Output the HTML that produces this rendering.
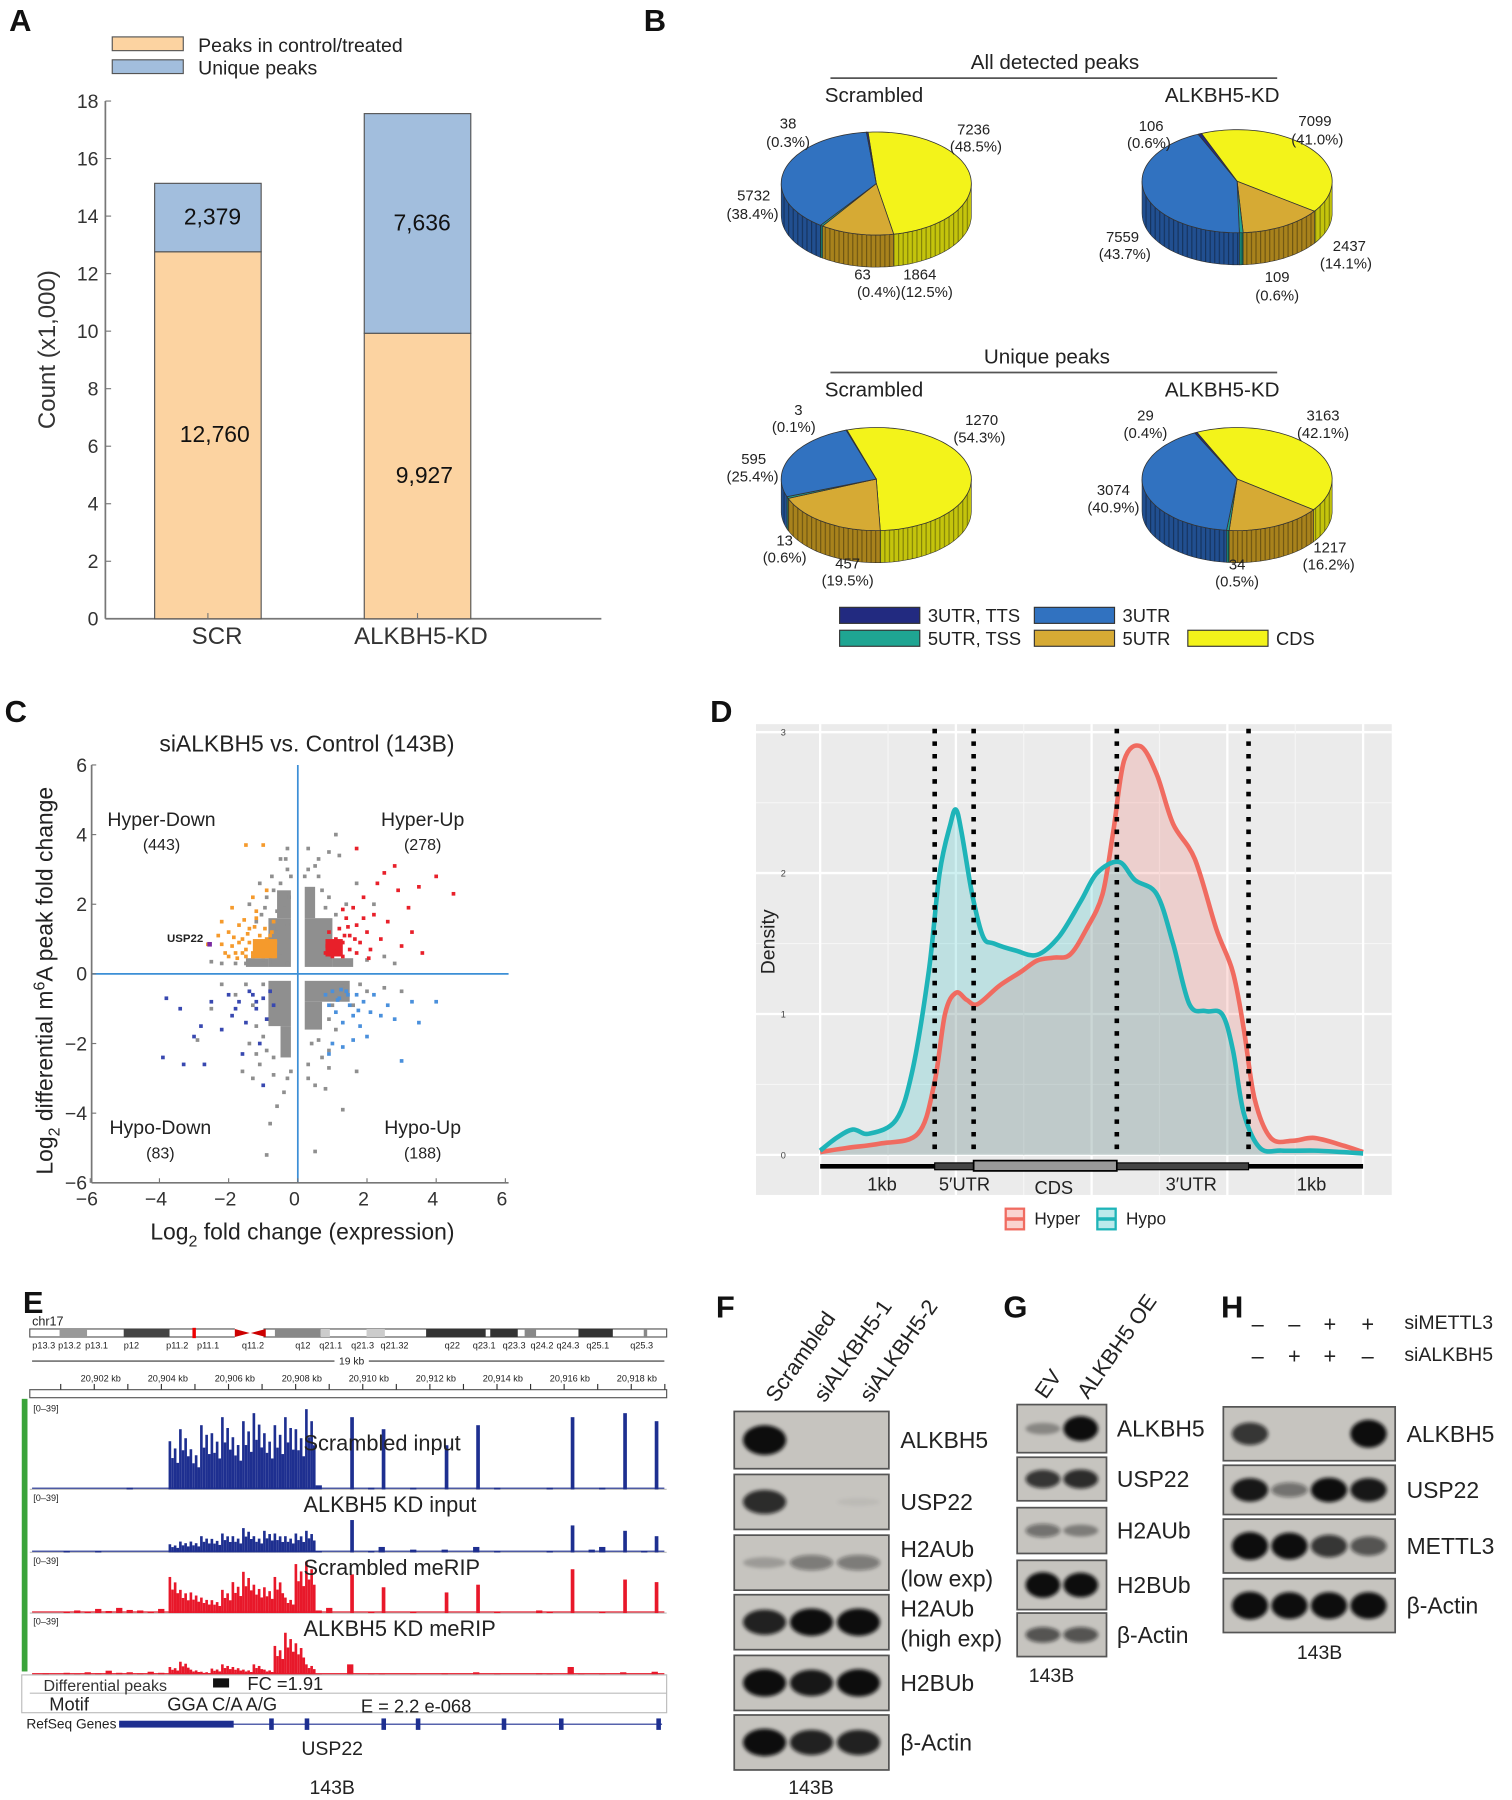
<!DOCTYPE html>
<html><head><meta charset="utf-8">
<style>
html,body{margin:0;padding:0;background:#fff;}
svg{display:block;font-family:"Liberation Sans",Arial,sans-serif;}
.pl{font-weight:bold;font-size:27px;fill:#111;}
.tk{font-size:17px;fill:#333;}
.sm{font-size:13px;fill:#222;}
</style></head>
<body>
<svg id="fig" width="1512" height="1800" viewBox="0 0 1320 1571" xmlns="http://www.w3.org/2000/svg">
<defs>
<pattern id="stripes" width="4" height="10" patternUnits="userSpaceOnUse"><rect x="0" y="0" width="1" height="10" fill="rgba(0,0,0,0.35)"/></pattern>
<filter id="blur" x="-20%" y="-50%" width="140%" height="200%"><feGaussianBlur stdDeviation="1.6"/></filter>
</defs>
<text class="pl" x="8" y="27">A</text>
<text class="pl" x="562" y="27">B</text>
<text class="pl" x="4" y="630">C</text>
<text class="pl" x="620" y="630">D</text>
<text class="pl" x="20" y="1146">E</text>
<text class="pl" x="625" y="1150">F</text>
<text class="pl" x="876" y="1150">G</text>
<text class="pl" x="1066" y="1150">H</text>

<g id="panelA"></g>
<g id="panelB"></g>
<g id="panelC"></g>
<g id="panelD"></g>
<g id="panelE"></g>
<g id="panelF"></g>
<g id="panelG"></g>
<g id="panelH"></g>
</svg>
<script>
// ===== Panel A data =====
const aCategories = ["SCR","ALKBH5-KD"];
const aShared = [12760, 9927];
const aUnique = [2379, 7636];
const aTicks = [0,2,4,6,8,10,12,14,16,18];
// ===== Panel B data =====
const bAllScr = [7236,1864,63,5732,38];
const bAllKD = [7099,2437,109,7559,106];
const bUniScr = [1270,457,13,595,3];
const bUniKD = [3163,1217,34,3074,29];
// ===== Panel C data =====
// dense point cores: [xmin, xmax, ymin, ymax]
const cGrayCores = [[-0.85,-0.2,0.2,1.6],[-1.5,-0.85,0.2,0.45],[-0.6,-0.2,1.6,2.4],[0.2,1.0,0.2,1.6],[1.0,1.6,0.2,0.45],[0.2,0.5,1.6,2.5],[-0.85,-0.2,-0.2,-1.5],[-0.5,-0.2,-1.5,-2.4],[0.2,1.5,-0.2,-0.8],[0.2,0.7,-0.8,-1.6]];
const cOrangeCores = [[-1.3,-0.6,0.45,1.0]];
const cRedCores = [[0.8,1.3,0.5,1.0]];
const cOrange = [-2.6,0.85,-2.3,1.1,-2.2,1.5,-2.0,1.2,-1.9,0.8,-1.8,0.6,-1.7,1.4,-1.6,1.0,-1.5,0.7,-1.4,1.3,-1.3,0.5,-1.3,2.2,-1.2,0.9,-1.2,1.8,-1.1,0.6,-1.1,1.1,-1.0,0.8,-1.0,0.5,-0.95,1.3,-0.9,0.7,-0.9,2.4,-0.85,0.9,-0.8,0.55,-0.8,1.1,-0.75,0.7,-0.7,0.5,-0.7,1.5,-0.65,0.9,-1.5,0.5,-1.4,0.9,-1.6,0.6,-1.9,1.9,-2.1,0.6,-1.0,3.7,-1.5,3.7,-1.2,1.6,-0.9,1.0,-1.7,0.9,-2.0,0.5,-1.1,0.8,-1.3,0.6,-0.8,0.8,-0.75,1.2,-1.45,1.15,-1.75,0.45,-2.2,0.85,-1.55,1.55,-1.25,1.35,-1.85,1.05];
const cRed = [0.8,0.6,0.9,0.9,0.9,1.2,1.0,0.5,1.0,0.8,1.1,1.0,1.1,0.6,1.2,0.7,1.2,1.3,1.3,0.5,1.3,0.9,1.4,1.6,1.5,0.7,1.5,1.1,1.6,1.9,1.7,0.6,1.7,1.4,1.8,0.9,1.9,2.2,2.0,1.2,2.1,0.7,2.2,1.7,2.3,2.6,2.4,1.0,2.5,2.9,2.6,1.5,2.8,3.1,2.9,2.4,3.0,0.8,3.2,1.9,3.3,1.2,3.5,2.5,3.6,0.6,4.0,2.8,4.5,2.3,1.7,3.6,0.85,0.8,1.05,0.65,0.95,0.55,1.15,0.85,1.35,1.1,1.9,1.6,1.45,1.35,1.65,1.0,2.05,0.45,1.3,1.85];
const cNavy = [-3.8,-0.7,-3.4,-1.0,-3.0,-1.8,-2.8,-1.5,-2.7,-2.6,-3.3,-2.6,-3.9,-2.4,-2.2,-1.6,-2.0,-0.6,-1.8,-1.0,-1.7,-0.8,-1.5,-1.4,-1.3,-0.6,-1.2,-1.0,-1.1,-2.0,-1.0,-0.7,-0.9,-1.3,-0.8,-0.5,-0.7,-0.9,-1.4,-0.5,-1.6,-2.3,-1.9,-1.2,-1.0,-3.2,-2.5,-0.8,-1.2,-0.8];
const cLight = [0.8,-0.6,0.9,-0.9,1.0,-0.5,1.1,-1.1,1.2,-0.7,1.3,-1.4,1.4,-0.5,1.5,-0.9,1.6,-1.2,1.7,-0.6,1.8,-1.5,1.9,-0.8,2.0,-1.8,2.1,-1.1,2.2,-0.6,1.0,-2.0,0.9,-2.3,1.3,-2.1,2.6,-0.9,2.8,-1.3,3.0,-2.5,3.3,-0.8,3.5,-1.4,4.0,-0.8,1.15,-0.75,1.45,-0.6,1.6,-1.9,2.4,-1.2,1.25,-0.45,1.75,-1.05];
const cGray = [-0.3,0.3,-0.5,0.5,-0.7,0.35,-1.0,0.3,-0.3,1.4,-0.6,1.8,-0.25,2.2,-0.5,2.6,-0.3,3.0,-0.9,2.2,-1.2,1.5,-1.5,0.3,-1.8,0.3,-2.2,0.3,-0.6,1.3,-0.4,2.0,-0.7,2.4,-1.1,2.6,-0.3,3.6,-0.2,2.8,-1.4,2.0,-0.5,3.3,-2.5,0.35,-0.95,1.9,-1.05,1.7,-0.75,2.8,-0.35,3.3,
0.3,3.0,0.9,2.2,1.2,3.4,0.5,3.1,0.7,2.4,0.9,3.5,0.3,3.6,0.2,2.8,1.4,2.0,0.6,2.8,1.5,0.3,2.0,0.4,2.5,0.5,2.8,0.3,1.1,4.0,1.7,2.6,2.2,2.0,0.8,1.9,1.1,1.7,0.6,3.3,
-1.0,-0.3,-0.3,-3.0,-0.9,-2.2,-1.2,-1.5,-1.5,-0.3,-1.8,-0.6,-2.2,-0.3,-0.7,-2.4,-1.1,-2.6,-0.4,-3.4,-0.2,-2.8,-1.4,-2.0,-1.6,-2.8,-1.3,-3.0,-0.6,-3.8,-0.8,-4.3,-0.9,-5.2,-2.5,-1.0,-2.9,-1.9,-1.3,-0.9,-1.0,-1.8,-1.2,-2.3,-0.7,-2.9,
0.3,-3.0,0.9,-2.2,1.0,-0.9,0.9,-1.3,0.4,-2.0,0.7,-2.4,1.3,-0.35,1.8,-0.3,2.5,-0.4,3.0,-0.5,0.5,-3.2,0.8,-3.3,1.3,-3.9,0.5,-5.1,1.7,-2.8,0.9,-2.7,0.3,-2.6,0.6,-1.9,1.1,-1.6,1.6,-0.9,2.0,-0.5];
const cTicks = [-6,-4,-2,0,2,4,6];
// ===== Panel D data =====
const dHyperPos = [0,5,11,18,21,23,25,27,29,33,37,40,43,46,49,52,54,56,59,62,65,69,73,76,78,80,83,87,91,96,100];
const dHyperVal = [0.02,0.05,0.08,0.15,0.5,1.0,1.15,1.1,1.07,1.2,1.3,1.38,1.4,1.42,1.6,1.85,2.3,2.8,2.9,2.7,2.35,2.1,1.6,1.3,0.9,0.4,0.12,0.1,0.12,0.07,0.02];
const dHypoPos = [0,3,6,9,14,17,20,22,24,25,26,28,30,32,36,40,44,48,51,55,58,62,65,68,71,74,76,78,81,85,91,96,100];
const dHypoVal = [0.03,0.12,0.18,0.15,0.25,0.6,1.3,2.0,2.35,2.45,2.3,1.85,1.55,1.5,1.45,1.42,1.55,1.8,2.0,2.08,1.95,1.85,1.5,1.07,1.02,1.0,0.75,0.3,0.05,0.03,0.03,0.02,0.01];
const dTicks = [0,1,2,3];
// ===== Panel E data (bin heights 0..1, 60 bins) =====
const eScrInput = [0,0,0,0,0,0,0,0,0,0.02,0,0,0,0.6,0.75,0.5,0.8,0.7,0.9,0.65,0.85,0.95,0.7,0.8,0.9,0.75,1.0,0.05,0,0,0.9,0,0.02,0.75,0,0,0.02,0,0,0.55,0,0,0.8,0,0.02,0,0,0,0,0.02,0,0.9,0,0,0.02,0,0.95,0,0,0.85];
const eKDInput = [0,0,0,0.02,0,0,0.02,0,0,0,0,0,0,0.15,0.2,0.2,0.3,0.25,0.35,0.3,0.45,0.3,0.4,0.35,0.3,0.35,0.4,0.02,0,0,0.6,0,0.02,0.1,0,0,0.05,0,0,0.05,0,0,0.1,0,0.02,0,0,0,0,0.02,0,0.5,0,0.05,0.1,0,0.4,0,0.02,0.3];
const eScrMerip = [0,0,0,0.02,0.05,0.03,0.08,0.04,0.1,0.06,0.05,0.03,0.08,0.7,0.45,0.4,0.3,0.25,0.45,0.6,0.8,0.55,0.5,0.7,0.3,0.95,1.0,0.05,0.1,0,0.75,0,0.02,0.5,0,0,0.02,0,0,0.4,0,0,0.55,0,0.02,0,0,0,0.05,0.02,0,0.85,0,0,0.02,0,0.65,0,0,0.6];
const eKDMerip = [0,0.03,0,0.04,0.02,0.05,0.03,0.08,0.04,0.05,0.03,0.06,0.04,0.15,0.25,0.1,0.06,0.12,0.2,0.15,0.1,0.2,0.1,0.55,0.8,0.6,0.2,0.02,0,0,0.2,0,0.02,0.02,0,0,0.02,0,0,0.03,0,0,0.05,0,0.02,0,0,0,0.03,0.02,0,0.15,0.02,0,0.02,0,0.05,0,0,0.06];
// ===== Blot data =====
const fRows = ["ALKBH5","USP22","H2AUb|(low exp)","H2AUb|(high exp)","H2BUb","β-Actin"];
const fBands = [[1,0,0],[0.8,0,0.05],[0.2,0.4,0.4],[0.85,0.95,0.95],[0.95,0.9,0.95],[0.95,0.85,0.85]];
const gRows = ["ALKBH5","USP22","H2AUb","H2BUb","β-Actin"];
const gBands = [[0.3,1],[0.75,0.8],[0.45,0.35],[1,0.95],[0.6,0.6]];
const hRows = ["ALKBH5","USP22","METTL3","β-Actin"];
const hBands = [[0.75,0,0,1],[0.9,0.45,0.95,0.9],[1,0.95,0.75,0.6],[1,0.95,0.95,0.95]];

const NS="http://www.w3.org/2000/svg";
function mk(parent,tag,attrs,txt){const e=document.createElementNS(NS,tag);for(const k in attrs)e.setAttribute(k,attrs[k]);if(txt!==undefined)e.textContent=txt;parent.appendChild(e);return e;}

// ===== Panel A =====
(function(){
const g=document.getElementById('panelA');
const x0=92,yb=540,yt=88,max=18;
const y=v=>yb-(v/1000)/max*(yb-yt);
const yv=v=>yb-v/max*(yb-yt);
const bx=[135,318],bw=93;
let el;
el=mk(g,'line',{x1:x0,y1:yt,x2:x0,y2:yb,stroke:'#777','stroke-width':1.5});

el=mk(g,'line',{x1:x0,y1:yb,x2:525,y2:yb,stroke:'#777','stroke-width':1.5});

aTicks.forEach(t=>{mk(g,'line',{x1:x0,y1:yv(t),x2:x0+5,y2:yv(t),stroke:'#777'});
el=mk(g,'text',{x:x0-6,y:yv(t)+6,'text-anchor':'end',class:'tk'},t);
});
aCategories.forEach((c,i)=>{
 el=mk(g,'rect',{x:bx[i],y:y(aShared[i]),width:bw,height:yb-y(aShared[i]),fill:'#fcd3a1',stroke:'#555','stroke-width':1});
 
 el=mk(g,'rect',{x:bx[i],y:y(aShared[i]+aUnique[i]),width:bw,height:y(aShared[i])-y(aShared[i]+aUnique[i]),fill:'#a2bedd',stroke:'#555','stroke-width':1});
 
 el=mk(g,'text',{x:bx[i]+bw/2+6,y:(y(aShared[i])+yb)/2+6,'text-anchor':'middle','font-size':20,fill:'#111'},aShared[i].toLocaleString('en-US'));
 
 el=mk(g,'text',{x:bx[i]+bw/2+4,y:(y(aShared[i])+y(aShared[i]+aUnique[i]))/2+6,'text-anchor':'middle','font-size':20,fill:'#111'},aUnique[i].toLocaleString('en-US'));
 
 mk(g,'line',{x1:bx[i]+bw/2,y1:yb,x2:bx[i]+bw/2,y2:yb-5,stroke:'#777'});
 el=mk(g,'text',{x:bx[i]+bw/2+ (i?3:8),y:562,'text-anchor':'middle','font-size':21,fill:'#333'},c);
 
});
el=mk(g,'text',{x:48,y:305,'text-anchor':'middle','font-size':21,fill:'#333',transform:'rotate(-90 48 305)'},'Count (x1,000)');

el=mk(g,'rect',{x:98,y:32,width:62,height:12,fill:'#fcd3a1',stroke:'#555'});

el=mk(g,'rect',{x:98,y:52,width:62,height:12,fill:'#a2bedd',stroke:'#555'});

el=mk(g,'text',{x:173,y:45,'font-size':17,fill:'#222'},'Peaks in control/treated');

el=mk(g,'text',{x:173,y:65,'font-size':17,fill:'#222'},'Unique peaks');

})();

// ===== Panel B =====
(function(){
const g=document.getElementById('panelB');
const top=['#f3f31a','#d6aa34','#1fa592','#3172c0','#222a80'];
const side=['#c4c40c','#a8821c','#188070','#214f90','#161d60'];
function pie(cx,cy,rx,ry,d,vals,start,name){
 const pg=mk(g,'g',{});
 
 const tot=vals.reduce((a,b)=>a+b,0);
 const P=(a,dy)=>[cx+rx*Math.cos(a),cy+ry*Math.sin(a)+(dy||0)];
 let a=start*Math.PI/180;const segs=[];
 vals.forEach((v,i)=>{const b=a+v/tot*2*Math.PI;segs.push([a,b,i]);a=b;});
 segs.forEach(([a1,b1,i])=>{
  for(let k=-1;k<=1;k++){
   const lo=Math.max(a1,k*2*Math.PI),hi=Math.min(b1,k*2*Math.PI+Math.PI);
   if(hi<=lo)continue;
   let dstr='';const n=24;
   for(let j=0;j<=n;j++){const t=lo+(hi-lo)*j/n;const p=P(t);dstr+=(j?'L':'M')+p[0].toFixed(1)+','+p[1].toFixed(1);}
   for(let j=n;j>=0;j--){const t=lo+(hi-lo)*j/n;const p=P(t,d);dstr+='L'+p[0].toFixed(1)+','+p[1].toFixed(1);}
   dstr+='Z';
   const s=mk(pg,'path',{d:dstr,fill:side[i],stroke:'#333','stroke-width':0.5});
   
   mk(pg,'path',{d:dstr,fill:'url(#stripes)'});
  }
 });
 segs.forEach(([a1,b1,i])=>{
  let dstr='M'+cx+','+cy;const n=Math.max(2,Math.ceil((b1-a1)*20));
  for(let j=0;j<=n;j++){const t=a1+(b1-a1)*j/n;const p=P(t);dstr+='L'+p[0].toFixed(1)+','+p[1].toFixed(1);}
  dstr+='Z';
  const s=mk(pg,'path',{d:dstr,fill:top[i],stroke:'#333','stroke-width':0.7});
  
 });
}
pie(765,160,83,45,28,bAllScr,-95,'pie-all-scrambled');
pie(1080,158,83,45,28,bAllKD,-112,'pie-all-alkbh5-kd');
pie(765,418,83,45,28,bUniScr,-108,'pie-unique-scrambled');
pie(1080,418,83,45,28,bUniKD,-115,'pie-unique-alkbh5-kd');
let el;
[[921,60,'All detected peaks',68],[914,317,'Unique peaks',325]].forEach(h=>{
 el=mk(g,'text',{x:h[0],y:h[1],'text-anchor':'middle','font-size':18,fill:'#222'},h[2]);
 
 mk(g,'line',{x1:725,y1:h[3],x2:1115,y2:h[3],stroke:'#555','stroke-width':1.5});
 el=mk(g,'text',{x:763,y:h[3]+21,'text-anchor':'middle','font-size':18,fill:'#222'},'Scrambled');
 
 el=mk(g,'text',{x:1067,y:h[3]+21,'text-anchor':'middle','font-size':18,fill:'#222'},'ALKBH5-KD');
 
});
const labs=[[688,112,'38'],[688,128,'(0.3%)'],[850,117,'7236'],[852,132,'(48.5%)'],[658,175,'5732'],[657,191,'(38.4%)'],[753,244,'63'],[803,244,'1864'],[790,259,'(0.4%)(12.5%)'],
[1005,114,'106'],[1003,129,'(0.6%)'],[1148,110,'7099'],[1150,126,'(41.0%)'],[980,211,'7559'],[982,226,'(43.7%)'],[1178,219,'2437'],[1175,234,'(14.1%)'],[1115,246,'109'],[1115,262,'(0.6%)'],
[697,362,'3'],[693,377,'(0.1%)'],[857,371,'1270'],[855,386,'(54.3%)'],[658,405,'595'],[657,420,'(25.4%)'],[685,476,'13'],[685,491,'(0.6%)'],[740,496,'457'],[740,511,'(19.5%)'],
[1000,367,'29'],[1000,382,'(0.4%)'],[1155,367,'3163'],[1155,382,'(42.1%)'],[972,432,'3074'],[972,447,'(40.9%)'],[1161,482,'1217'],[1160,497,'(16.2%)'],[1080,497,'34'],[1080,512,'(0.5%)']];
labs.forEach(l=>{el=mk(g,'text',{x:l[0],y:l[1],'text-anchor':'middle',class:'sm'},l[2]);
 });
const leg=[[733,530,'#222a80','3UTR, TTS'],[903,530,'#3172c0','3UTR'],[733,550,'#1fa592','5UTR, TSS'],[903,550,'#d6aa34','5UTR'],[1037,550,'#f3f31a','CDS']];
leg.forEach(l=>{el=mk(g,'rect',{x:l[0],y:l[1],width:70,height:14,fill:l[2],stroke:'#333'});
 
 el=mk(g,'text',{x:l[0]+77,y:l[1]+13,'font-size':16,fill:'#222'},l[3]);
 });
})();

// ===== Panel C =====
(function(){
const g=document.getElementById('panelC');
const X=v=>260+v*30.2, Y=v=>850-v*30.4;
let el;
el=mk(g,'text',{x:268,y:656,'text-anchor':'middle','font-size':20,fill:'#222'},'siALKBH5 vs. Control (143B)');

function cores(arr,col,name){arr.forEach(c=>{
 const x1=Math.min(X(c[0]),X(c[1])),x2=Math.max(X(c[0]),X(c[1])),y1=Math.min(Y(c[2]),Y(c[3])),y2=Math.max(Y(c[2]),Y(c[3]));
 const r=mk(g,'rect',{x:x1,y:y1,width:x2-x1,height:y2-y1,fill:col});
 });}
function pts(arr,col,name){arr.forEach((v,i)=>{if(i%2)return;
 const c=mk(g,'rect',{x:X(v)-1.6,y:Y(arr[i+1])-1.6,width:3.2,height:3.2,fill:col});
 });}
cores(cGrayCores,'#8f8f8f','point-cluster-gray');
pts(cGray,'#8f8f8f','point-gray');
cores(cOrangeCores,'#f59a2c','point-cluster-hyper-down');
cores(cRedCores,'#e8202a','point-cluster-hyper-up');
pts(cOrange,'#f59a2c','point-hyper-down');
pts(cRed,'#e8202a','point-hyper-up');
pts(cNavy,'#3848b0','point-hypo-down');
pts(cLight,'#4a90dc','point-hypo-up');
el=mk(g,'rect',{x:X(-2.55)-2,y:Y(0.85)-2,width:4,height:4,fill:'#7a2aa0'});

el=mk(g,'text',{x:X(-2.6)-4,y:Y(0.85)-2,'text-anchor':'end','font-size':10,'font-weight':'bold',fill:'#222'},'USP22');

mk(g,'line',{x1:80,y1:Y(0),x2:444,y2:Y(0),stroke:'#3c8fd6','stroke-width':1.5});
mk(g,'line',{x1:X(0),y1:Y(6),x2:X(0),y2:Y(-6),stroke:'#3c8fd6','stroke-width':1.5});
el=mk(g,'line',{x1:80,y1:Y(6),x2:80,y2:Y(-6),stroke:'#777','stroke-width':1.5});

el=mk(g,'line',{x1:80,y1:Y(-6),x2:444,y2:Y(-6),stroke:'#777','stroke-width':1.5});

cTicks.forEach(t=>{
 mk(g,'line',{x1:80,y1:Y(t),x2:84,y2:Y(t),stroke:'#777'});
 el=mk(g,'text',{x:76,y:Y(t)+6,'text-anchor':'end',class:'tk'},t<0?'\u2212'+(-t):t);
 
 mk(g,'line',{x1:X(t),y1:Y(-6),x2:X(t),y2:Y(-6)-4,stroke:'#777'});
 el=mk(g,'text',{x:X(t)-3,y:1052,'text-anchor':'middle',class:'tk'},t<0?'\u2212'+(-t):t);
 
});
const q=[[141,721,'Hyper-Down','(443)'],[369,721,'Hyper-Up','(278)'],[140,990,'Hypo-Down','(83)'],[369,990,'Hypo-Up','(188)']];
q.forEach(a=>{el=mk(g,'text',{x:a[0],y:a[1],'text-anchor':'middle','font-size':17,fill:'#222'},a[2]);
 
 el=mk(g,'text',{x:a[0],y:a[1]+21,'text-anchor':'middle','font-size':14,fill:'#222'},a[3]);
 });
el=mk(g,'text',{x:264,y:1082,'text-anchor':'middle','font-size':20,fill:'#222'});
el.innerHTML='Log<tspan font-size="14" dy="6">2</tspan><tspan dy="-6"> fold change (expression)</tspan>';

el=mk(g,'text',{x:46,y:856,'text-anchor':'middle','font-size':20,fill:'#222',transform:'rotate(-90 46 856)'});
el.innerHTML='Log<tspan font-size="14" dy="6">2</tspan><tspan dy="-6"> differential m</tspan><tspan font-size="14" dy="-7">6</tspan><tspan dy="7">A peak fold change</tspan>';

})();

// ===== Panel D =====
(function(){
const g=document.getElementById('panelD');
const X=p=>716+p*4.74, Y=v=>1008-v*123;
let el;
el=mk(g,'rect',{x:660,y:632,width:555,height:411,fill:'#ebebeb'});

[0.5,1.5,2.5].forEach(v=>mk(g,'line',{x1:660,y1:Y(v),x2:1215,y2:Y(v),stroke:'#f6f6f6','stroke-width':1}));
dTicks.forEach(v=>{mk(g,'line',{x1:660,y1:Y(v),x2:1215,y2:Y(v),stroke:'#fff','stroke-width':2});
 el=mk(g,'text',{x:686,y:Y(v)+3,'text-anchor':'end','font-size':8,fill:'#444'},v);
 });
[0,12.5,25,37.5,50,62.5,75,87.5,100].forEach((p,i)=>mk(g,'line',{x1:X(p),y1:632,x2:X(p),y2:1043,stroke:i%2?'#f6f6f6':'#fff','stroke-width':i%2?1:2}));
function area(pos,val,fill,name){
 const P=pos.map((p,i)=>[X(p),Y(val[i])]);
 let line='M'+P[0][0]+','+P[0][1];
 for(let i=0;i<P.length-1;i++){const p0=P[Math.max(0,i-1)],p1=P[i],p2=P[i+1],p3=P[Math.min(P.length-1,i+2)];
  const c1=[p1[0]+(p2[0]-p0[0])/6,p1[1]+(p2[1]-p0[1])/6],c2=[p2[0]-(p3[0]-p1[0])/6,p2[1]-(p3[1]-p1[1])/6];
  line+='C'+c1[0].toFixed(1)+','+c1[1].toFixed(1)+' '+c2[0].toFixed(1)+','+c2[1].toFixed(1)+' '+p2[0].toFixed(1)+','+p2[1].toFixed(1);}
 el=mk(g,'path',{d:line+'L'+X(pos[pos.length-1])+','+Y(0)+'L'+X(pos[0])+','+Y(0)+'Z',fill:fill});
 
 return line;
}
const l1=area(dHyperPos,dHyperVal,'rgba(240,110,100,0.22)','hyper');
const l2=area(dHypoPos,dHypoVal,'rgba(30,185,190,0.22)','hypo');
el=mk(g,'path',{d:l1,fill:'none',stroke:'#f06b60','stroke-width':4});

el=mk(g,'path',{d:l2,fill:'none',stroke:'#1eb4b8','stroke-width':4});

[816,850,975,1090].forEach(x=>{el=mk(g,'line',{x1:x,y1:636,x2:x,y2:1010,stroke:'#000','stroke-width':4,'stroke-dasharray':'4 7'});
 });
el=mk(g,'line',{x1:716,y1:1018,x2:1190,y2:1018,stroke:'#000','stroke-width':4});

mk(g,'rect',{x:816,y:1015,width:34,height:6,fill:'#444',stroke:'#000'});
mk(g,'rect',{x:975,y:1015,width:115,height:6,fill:'#444',stroke:'#000'});
el=mk(g,'rect',{x:850,y:1013,width:125,height:9,fill:'#9a9a9a',stroke:'#000','stroke-width':1.5});

[[770,1039,'1kb'],[842,1039,'5\u2032UTR'],[920,1042,'CDS'],[1040,1039,'3\u2032UTR'],[1145,1039,'1kb']].forEach(a=>{
 el=mk(g,'text',{x:a[0],y:a[1],'text-anchor':'middle','font-size':16,fill:'#222'},a[2]);
 });
el=mk(g,'text',{x:676,y:822,'text-anchor':'middle','font-size':17,fill:'#222',transform:'rotate(-90 676 822)'},'Density');

el=mk(g,'rect',{x:878,y:1055,width:16,height:18,fill:'rgba(240,110,100,0.3)',stroke:'#f06b60','stroke-width':2});

mk(g,'line',{x1:878,y1:1064,x2:894,y2:1064,stroke:'#f06b60','stroke-width':3});
el=mk(g,'text',{x:903,y:1069,'font-size':15,fill:'#222'},'Hyper');

el=mk(g,'rect',{x:958,y:1055,width:16,height:18,fill:'rgba(30,185,190,0.3)',stroke:'#1eb4b8','stroke-width':2});

mk(g,'line',{x1:958,y1:1064,x2:974,y2:1064,stroke:'#1eb4b8','stroke-width':3});
el=mk(g,'text',{x:983,y:1069,'font-size':15,fill:'#222'},'Hypo');

})();

// ===== Panel E =====
(function(){
const g=document.getElementById('panelE');
let el;
el=mk(g,'text',{x:28,y:1157,'font-size':11,fill:'#222'},'chr17');

el=mk(g,'rect',{x:26,y:1160,width:556,height:7,fill:'#fff',stroke:'#555'});

[[52,76,'#999'],[108,148,'#444'],[240,280,'#888'],[280,288,'#ccc'],[320,336,'#ccc'],[372,424,'#333'],[428,452,'#333'],[458,468,'#888'],[505,535,'#333'],[562,565,'#888']].forEach(b=>mk(g,'rect',{x:b[0],y:1160,width:b[1]-b[0],height:7,fill:b[2]}));
mk(g,'rect',{x:168,y:1159,width:3,height:9,fill:'#e00'});
mk(g,'rect',{x:205,y:1158,width:25,height:11,fill:'#fff'});
mk(g,'path',{d:'M205,1160 L218,1163.5 L205,1167Z M232,1160 L219,1163.5 L232,1167Z',fill:'#c00'});
const bands=[[40,'p13.3'],[66,'p13.2'],[93,'p13.1'],[128,'p12'],[174,'p11.2'],[205,'p11.1'],[250,'q11.2'],[300,'q12'],[328,'q21.1'],[360,'q21.3'],[392,'q21.32'],[450,'q22'],[482,'q23.1'],[512,'q23.3'],[540,'q24.2'],[566,'q24.3'],[596,'q25.1'],[640,'q25.3']];
bands.forEach(b=>{const x=26+(b[0]-26)*0.87;el=mk(g,'text',{x:x,y:1177,'text-anchor':'middle','font-size':8,fill:'#222'},b[1]);
 });
mk(g,'line',{x1:28,y1:1188,x2:580,y2:1188,stroke:'#333'});
mk(g,'rect',{x:292,y:1181,width:30,height:12,fill:'#fff'});
el=mk(g,'text',{x:307,y:1191,'text-anchor':'middle','font-size':9,fill:'#222'},'19 kb');

for(let i=0;i<9;i++){const x=88+i*58.5;el=mk(g,'text',{x:x,y:1206,'text-anchor':'middle','font-size':8,fill:'#222'},'20,'+(902+2*i)+' kb');
 }
mk(g,'rect',{x:26,y:1213,width:556,height:7,fill:'#fff',stroke:'#555'});
for(let i=0;i<19;i++){const x=53+i*29.3;mk(g,'line',{x1:x,y1:1208,x2:x,y2:1213,stroke:'#333'});}
el=mk(g,'rect',{x:19,y:1221,width:5,height:238,fill:'#3aa33a'});

const tracks=[[eScrInput,1222,1300,'#1e2f90','Scrambled input'],[eKDInput,1300,1355,'#1e2f90','ALKBH5 KD input'],[eScrMerip,1355,1408,'#e8182a','Scrambled meRIP'],[eKDMerip,1408,1462,'#e8182a','ALKBH5 KD meRIP']];
const bw=(578-28)/60;
tracks.forEach(t=>{
 const tg=mk(g,'g',{});
 mk(tg,'line',{x1:26,y1:t[2],x2:582,y2:t[2],stroke:'#bbb'});
 mk(tg,'line',{x1:28,y1:t[2]-1,x2:580,y2:t[2]-1,stroke:t[3],'stroke-width':1});
 t[0].forEach((v,i)=>{if(v<=0)return;const h=v*(t[2]-t[1]-8);
  const dense=(i>=13&&i<=26);
  if(dense){
   // jagged sub-bars within bin
   [1,0.65,0.85,0.55].forEach((f,k)=>{const r=mk(tg,'rect',{x:28+i*bw+k*bw/4,y:t[2]-h*f,width:bw/4,height:h*f,fill:t[3]});
    });
  } else {
   const r=mk(tg,'rect',{x:28+i*bw+(v>0.2?bw*0.3:0),y:t[2]-h,width:v>0.2?bw*0.35:bw*0.6,height:h,fill:t[3]});
   
  }});
 el=mk(tg,'text',{x:29,y:t[1]+10,'font-size':8,fill:'#222'},'[0\u201339]');
 
 el=mk(tg,'text',{x:265,y:t[1]+(t[1]===1222?44:20),'font-size':19,fill:'#222'},t[4]);
 
});
mk(g,'rect',{x:19,y:1462,width:563,height:33,fill:'none',stroke:'#bbb'});
mk(g,'line',{x1:26,y1:1478,x2:582,y2:1478,stroke:'#bbb'});
el=mk(g,'text',{x:38,y:1476,'font-size':14,fill:'#333'},'Differential peaks');

el=mk(g,'rect',{x:186,y:1465,width:14,height:8,fill:'#111'});

el=mk(g,'text',{x:216,y:1475,'font-size':16,fill:'#222'},'FC =1.91');

el=mk(g,'text',{x:43,y:1493,'font-size':16,fill:'#222'},'Motif');

el=mk(g,'text',{x:146,y:1493,'font-size':16,fill:'#222'},'GGA C/A A/G');

el=mk(g,'text',{x:315,y:1495,'font-size':16,fill:'#222'},'E = 2.2 e-068');

el=mk(g,'text',{x:23,y:1509,'font-size':12,fill:'#222'},'RefSeq Genes');

el=mk(g,'line',{x1:104,y1:1505,x2:578,y2:1505,stroke:'#1e2f90','stroke-width':1});

mk(g,'rect',{x:104,y:1502,width:100,height:6,fill:'#1e2f90'});
[237,268,335,365,440,490,575].forEach(x=>mk(g,'rect',{x:x-2,y:1500,width:4,height:10,fill:'#1e2f90'}));
el=mk(g,'text',{x:290,y:1532,'text-anchor':'middle','font-size':17,fill:'#222'},'USP22');

el=mk(g,'text',{x:290,y:1566,'text-anchor':'middle','font-size':17,fill:'#222'},'143B');

})();

// ===== Blots =====
function blot(gid,x,w,rows,bands,labelX,name){
 const g=document.getElementById(gid);
 rows.forEach((r,i)=>{
  const [y,h]=r.box;
  let el=mk(g,'rect',{x:x,y:y,width:w,height:h,fill:'#c6c4bf',stroke:'#555','stroke-width':1.5});
  
  const n=bands[i].length;const lw=(w-12)/n;
  bands[i].forEach((v,j)=>{if(v<=0)return;
   const b=mk(g,'ellipse',{cx:x+6+lw*(j+0.5),cy:y+h/2,rx:lw*0.46,ry:Math.max(1.5,h*0.2*(0.3+v)),fill:'#111','fill-opacity':Math.min(1,v*1.05),filter:'url(#blur)'});
   });
  const parts=r.label.split('|');
  parts.forEach((p,k)=>{el=mk(g,'text',{x:labelX,y:y+h/2+7+(parts.length>1?(k?14:-12):0),'font-size':20,fill:'#222'},p);
   });
 });
}
(function(){
const fBox=[[1232,50],[1287,48],[1340,48],[1392,48],[1445,48],[1497,48]];
blot('panelF',641,135,fRows.map((l,i)=>({label:l,box:fBox[i]})),fBands,786,'f');
const gBox=[[1226,42],[1272,38],[1316,40],[1362,43],[1408,38]];
blot('panelG',888,78,gRows.map((l,i)=>({label:l,box:gBox[i]})),gBands,975,'g');
const hBox=[[1228,47],[1279,43],[1326,47],[1378,47]];
blot('panelH',1068,150,hRows.map((l,i)=>({label:l,box:hBox[i]})),hBands,1228,'h');
const gF=document.getElementById('panelF'),gG=document.getElementById('panelG'),gH=document.getElementById('panelH');
let el;
[[678,1225,'Scrambled'],[720,1225,'siALKBH5-1'],[760,1225,'siALKBH5-2']].forEach(a=>{
 el=mk(gF,'text',{x:a[0],y:a[1],'font-size':19,fill:'#222',transform:'rotate(-55 '+a[0]+' '+a[1]+')'},a[2]);
 });
[[913,1222,'EV'],[950,1222,'ALKBH5 OE']].forEach(a=>{
 el=mk(gG,'text',{x:a[0],y:a[1],'font-size':19,fill:'#222',transform:'rotate(-55 '+a[0]+' '+a[1]+')'},a[2]);
 });
const s1=['\u2013','\u2013','+','+'],s2=['\u2013','+','+','\u2013'],hx=[1098,1130,1161,1194];
hx.forEach((x,i)=>{el=mk(gH,'text',{x:x,y:1162,'text-anchor':'middle','font-size':19,fill:'#222'},s1[i]);
 
 el=mk(gH,'text',{x:x,y:1190,'text-anchor':'middle','font-size':19,fill:'#222'},s2[i]);
 });
el=mk(gH,'text',{x:1226,y:1160,'font-size':17,fill:'#222'},'siMETTL3');

el=mk(gH,'text',{x:1226,y:1188,'font-size':17,fill:'#222'},'siALKBH5');

[[gF,708,1566],[gG,918,1468],[gH,1152,1448]].forEach(a=>{el=mk(a[0],'text',{x:a[1],y:a[2],'text-anchor':'middle','font-size':17,fill:'#222'},'143B');
 });
})();
</script>
</body></html>
